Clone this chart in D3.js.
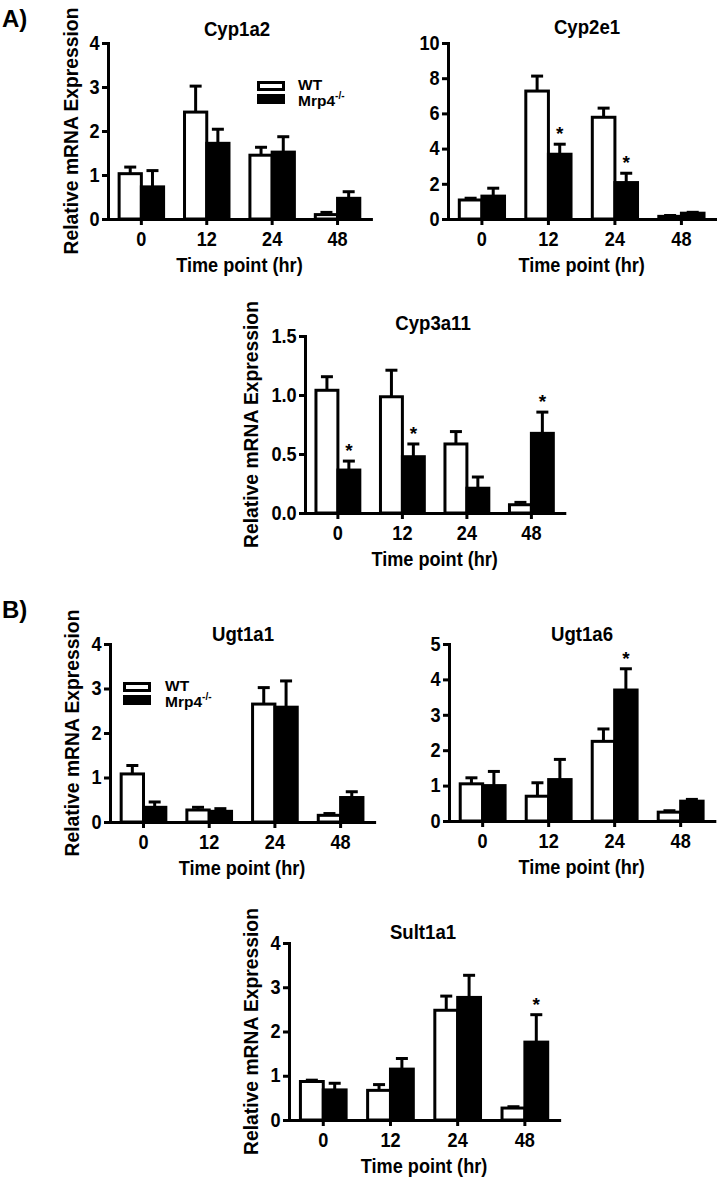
<!DOCTYPE html>
<html><head><meta charset="utf-8">
<script src="https://cdn.jsdelivr.net/npm/d3@7"></script>
<style>body{margin:0;background:#fff}svg{display:block}</style>
</head><body>
<svg id="c" width="717" height="1181"></svg>
<script>
// ---- data ----
const timePoints = ["0", "12", "24", "48"];
const groups = ["WT", "Mrp4"];

const cyp1a2WT = [1.03, 2.43, 1.45, 0.10];
const cyp1a2WTsem = [0.15, 0.59, 0.18, 0.05];
const cyp1a2KO = [0.73, 1.72, 1.52, 0.47];
const cyp1a2KOsem = [0.37, 0.32, 0.35, 0.15];
const cyp1a2Sig = [];

const cyp2e1WT = [1.08, 7.27, 5.78, 0.15];
const cyp2e1WTsem = [0.10, 0.85, 0.52, 0.05];
const cyp2e1KO = [1.30, 3.68, 2.07, 0.33];
const cyp2e1KOsem = [0.45, 0.57, 0.53, 0.05];
const cyp2e1Sig = ["12", "24"];

const cyp3a11WT = [1.04, 0.985, 0.585, 0.07];
const cyp3a11WTsem = [0.115, 0.225, 0.105, 0.02];
const cyp3a11KO = [0.364, 0.477, 0.21, 0.675];
const cyp3a11KOsem = [0.076, 0.108, 0.095, 0.18];
const cyp3a11Sig = ["0", "12", "48"];

const ugt1a1WT = [1.08, 0.27, 2.65, 0.15];
const ugt1a1WTsem = [0.19, 0.06, 0.37, 0.04];
const ugt1a1KO = [0.33, 0.24, 2.58, 0.55];
const ugt1a1KOsem = [0.12, 0.06, 0.59, 0.13];
const ugt1a1Sig = [];

const ugt1a6WT = [1.05, 0.70, 2.25, 0.25];
const ugt1a6WTsem = [0.17, 0.38, 0.35, 0.04];
const ugt1a6KO = [1.00, 1.17, 3.70, 0.56];
const ugt1a6KOsem = [0.40, 0.57, 0.60, 0.05];
const ugt1a6Sig = ["24"];

const sult1a1WT = [0.87, 0.67, 2.48, 0.27];
const sult1a1WTsem = [0.03, 0.13, 0.32, 0.03];
const sult1a1KO = [0.68, 1.15, 2.77, 1.76];
const sult1a1KOsem = [0.15, 0.24, 0.50, 0.62];
const sult1a1Sig = ["48"];

const yTicks1 = [0, 1, 2, 3, 4];
const yTicks2 = [0, 2, 4, 6, 8, 10];
const yTicks3 = [0, 0.5, 1.0, 1.5];
const yTicks5 = [0, 1, 2, 3, 4, 5];

// ---- layout ----
const panels = [
  {title: "Cyp1a2", wt: cyp1a2WT, wtE: cyp1a2WTsem, ko: cyp1a2KO, koE: cyp1a2KOsem, sig: cyp1a2Sig,
   ticks: yTicks1, fmt: d3.format("d"), x0: 108, step: 65.4, yTop: 43, yBot: 219,
   yLabelX: 78, titleX: 237, titleY: 36, legend: [257, 81, 298]},
  {title: "Cyp2e1", wt: cyp2e1WT, wtE: cyp2e1WTsem, ko: cyp2e1KO, koE: cyp2e1KOsem, sig: cyp2e1Sig,
   ticks: yTicks2, fmt: d3.format("d"), x0: 448, step: 66.5, yTop: 43, yBot: 219,
   yLabelX: null, titleX: 587, titleY: 34},
  {title: "Cyp3a11", wt: cyp3a11WT, wtE: cyp3a11WTsem, ko: cyp3a11KO, koE: cyp3a11KOsem, sig: cyp3a11Sig,
   ticks: yTicks3, fmt: d3.format(".1f"), x0: 305, step: 64.5, yTop: 336, yBot: 513,
   yLabelX: 258, titleX: 433, titleY: 330},
  {title: "Ugt1a1", wt: ugt1a1WT, wtE: ugt1a1WTsem, ko: ugt1a1KO, koE: ugt1a1KOsem, sig: ugt1a1Sig,
   ticks: yTicks1, fmt: d3.format("d"), x0: 110, step: 65.7, yTop: 644, yBot: 822,
   yLabelX: 79, titleX: 243, titleY: 641, legend: [123, 682, 165]},
  {title: "Ugt1a6", wt: ugt1a6WT, wtE: ugt1a6WTsem, ko: ugt1a6KO, koE: ugt1a6KOsem, sig: ugt1a6Sig,
   ticks: yTicks5, fmt: d3.format("d"), x0: 449, step: 66, yTop: 644, yBot: 821,
   yLabelX: null, titleX: 582, titleY: 641},
  {title: "Sult1a1", wt: sult1a1WT, wtE: sult1a1WTsem, ko: sult1a1KO, koE: sult1a1KOsem, sig: sult1a1Sig,
   ticks: yTicks1, fmt: d3.format("d"), x0: 289, step: 67.2, yTop: 943, yBot: 1120,
   yLabelX: 258, titleX: 423, titleY: 939}
];

const FONT = "'Liberation Sans', Arial, Helvetica, sans-serif";
const LW = 3;
const SX = 0.93; // horizontal condensing of horizontal text
const svg = d3.select("#c");
svg.append("rect").attr("width", 717).attr("height", 1181).attr("fill", "#fff");

function label(parent, x, y, txt, size, anchor, sx) {
  const t = parent.append("g").attr("transform", `translate(${x},${y}) scale(${sx},1)`)
    .append("text").attr("text-anchor", anchor)
    .attr("font-family", FONT).attr("font-weight", "bold").attr("font-size", size)
    .text(txt);
  return t;
}

label(svg, 2, 27, "A)", 24, "start", 1);
label(svg, 2, 618, "B)", 24, "start", 1);

panels.forEach(p => {
  const g = svg.append("g");
  const x = d3.scaleBand().domain(timePoints)
    .range([p.x0, p.x0 + 4.02 * p.step]).paddingInner(0.32).paddingOuter(0.17);
  const sub = d3.scaleBand().domain(groups).range([0, x.bandwidth()]);
  const yMax = p.ticks[p.ticks.length - 1];
  const y = d3.scaleLinear().domain([0, yMax]).range([p.yBot, p.yTop]);

  const rows = [];
  timePoints.forEach((t, i) => {
    rows.push({t, grp: "WT", v: p.wt[i], e: p.wtE[i]});
    rows.push({t, grp: "Mrp4", v: p.ko[i], e: p.koE[i]});
  });

  // bars
  g.selectAll("rect.bar").data(rows).join("rect").attr("class", "bar")
    .attr("x", d => x(d.t) + sub(d.grp))
    .attr("width", sub.bandwidth())
    .attr("y", d => y(d.v))
    .attr("height", d => p.yBot - y(d.v))
    .attr("fill", d => d.grp === "WT" ? "#fff" : "#000")
    .attr("stroke", "#000").attr("stroke-width", LW);

  // error bars (upper only)
  const cx = d => x(d.t) + sub(d.grp) + sub.bandwidth() / 2;
  g.selectAll("line.err").data(rows).join("line").attr("class", "err")
    .attr("x1", cx).attr("x2", cx)
    .attr("y1", d => y(d.v)).attr("y2", d => y(d.v + d.e))
    .attr("stroke", "#000").attr("stroke-width", LW);
  g.selectAll("line.cap").data(rows).join("line").attr("class", "cap")
    .attr("x1", d => cx(d) - 6).attr("x2", d => cx(d) + 6)
    .attr("y1", d => y(d.v + d.e)).attr("y2", d => y(d.v + d.e))
    .attr("stroke", "#000").attr("stroke-width", LW);

  // significance stars
  rows.filter(d => d.grp === "Mrp4" && p.sig.includes(d.t)).forEach(d => {
    label(g, cx(d), y(d.v + d.e) - 4, "*", 19, "middle", 1);
  });

  // axes
  const yAxis = g.append("g").attr("transform", `translate(${p.x0},0)`)
    .call(d3.axisLeft(y).tickValues(p.ticks).tickFormat(p.fmt).tickSize(6).tickSizeOuter(0).tickPadding(3));
  const xAxis = g.append("g").attr("transform", `translate(0,${p.yBot})`)
    .call(d3.axisBottom(x).tickSize(6).tickSizeOuter(0).tickPadding(7));
  [yAxis, xAxis].forEach(a => {
    a.attr("font-family", FONT).attr("font-size", 19.5).attr("font-weight", "bold");
    a.selectAll("path.domain").attr("stroke", "#000").attr("stroke-width", LW).attr("stroke-linecap", "square");
    a.selectAll(".tick line").attr("stroke", "#000").attr("stroke-width", LW);
    a.selectAll(".tick text").attr("fill", "#000").attr("transform", `scale(${SX},1)`);
  });

  // title
  label(g, p.titleX, p.titleY, p.title, 20, "middle", SX);

  // x label
  const [r0, r1] = x.range();
  label(g, (r0 + r1) / 2, p.yBot + 53, "Time point (hr)", 19.5, "middle", SX);

  // y label
  if (p.yLabelX !== null) {
    g.append("text")
      .attr("transform", `translate(${p.yLabelX},${(p.yTop + p.yBot) / 2}) rotate(-90)`)
      .attr("text-anchor", "middle")
      .attr("font-family", FONT).attr("font-weight", "bold").attr("font-size", 19.3)
      .text("Relative mRNA Expression");
  }

  // legend
  if (p.legend) {
    const [lx, ly, tx] = p.legend;
    const lg = g.append("g");
    lg.selectAll("rect").data(groups).join("rect")
      .attr("x", lx + 1.5).attr("y", (d, i) => ly + 1.5 + i * 13)
      .attr("width", 25).attr("height", 7)
      .attr("fill", d => d === "WT" ? "#fff" : "#000")
      .attr("stroke", "#000").attr("stroke-width", LW);
    label(lg, tx, ly + 9, "WT", 15.5, "start", 1);
    const t2 = label(lg, tx, ly + 25, "", 15.5, "start", 1);
    t2.append("tspan").text("Mrp4");
    t2.append("tspan").attr("font-size", 10).attr("dy", -7).text("-/-");
  }
});
</script>
</body></html>
